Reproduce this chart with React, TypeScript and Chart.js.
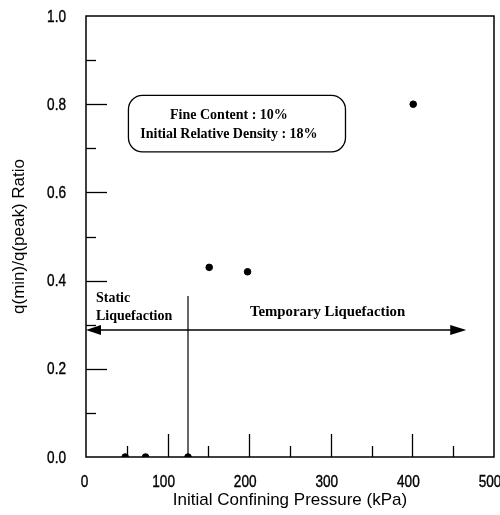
import React, { useEffect, useRef } from "react";
import { Chart, registerables } from "chart.js";

Chart.register(...registerables);

// Data
const pressureKPa = [48, 73, 125, 151, 198, 401];
const ratioValues = [0, 0, 0, 0.43, 0.42, 0.8];

// Axis tick labels
const xTickValues = [0, 100, 200, 300, 400, 500];
const yTickValues = [0, 0.2, 0.4, 0.6, 0.8, 1.0];
const xMajorInner = [100, 200, 300, 400];
const xMinorInner = [50, 150, 250, 350, 450];
const yMajorInner = [0.2, 0.4, 0.6, 0.8];
const yMinorInner = [0.1, 0.3, 0.5, 0.7, 0.9];

// Annotation values (in data units)
const arrowY = 0.288;
const arrowLeftX = 0;
const arrowRightX = 466;
const dividerX = 125;
const dividerTop = 0.365;
const boxX = [52, 318];
const boxY = [0.692, 0.82];
const boxLines = ["Fine Content : 10%", "Initial Relative Density : 18%"];

const TICK_FONT = "17px 'Liberation Sans', Arial, sans-serif";
const NARROW = 0.8;

const drawNarrow = (ctx: CanvasRenderingContext2D, text: string, x: number, y: number, align: "left" | "right" | "center") => {
  ctx.save();
  ctx.translate(x, y);
  ctx.scale(NARROW, 1);
  ctx.textAlign = align;
  ctx.textBaseline = "middle";
  ctx.fillText(text, 0, 0);
  ctx.lineWidth = 0.4;
  ctx.strokeText(text, 0, 0);
  ctx.restore();
};

const annotationPlugin = {
  id: "annot",
  afterDatasetsDraw(chart: any) {
    const ctx = chart.ctx as CanvasRenderingContext2D;
    const xs = chart.scales.x;
    const ys = chart.scales.y;
    const { left, right, top, bottom } = chart.chartArea;
    ctx.save();
    ctx.strokeStyle = "#000";
    ctx.fillStyle = "#000";
    // frame
    ctx.lineWidth = 1.5;
    ctx.strokeRect(left, top, right - left, bottom - top);
    // inner ticks
    ctx.lineWidth = 1.3;
    const drawX = (vals: number[], len: number) => {
      vals.forEach((v) => {
        const px = Math.round(xs.getPixelForValue(v)) + 0.5;
        ctx.beginPath();
        ctx.moveTo(px, bottom);
        ctx.lineTo(px, bottom - len);
        ctx.stroke();
      });
    };
    const drawY = (vals: number[], len: number) => {
      vals.forEach((v) => {
        const py = Math.round(ys.getPixelForValue(v)) + 0.5;
        ctx.beginPath();
        ctx.moveTo(left, py);
        ctx.lineTo(left + len, py);
        ctx.stroke();
      });
    };
    drawX(xMajorInner, 23);
    drawX(xMinorInner, 11);
    drawY(yMajorInner, 21);
    drawY(yMinorInner, 10);

    // tick labels (condensed sans)
    ctx.font = TICK_FONT;
    xTickValues.forEach((v) => {
      drawNarrow(ctx, String(v), xs.getPixelForValue(v) - (v === 0 ? 1.5 : 4), bottom + 25, "center");
    });
    yTickValues.forEach((v) => {
      drawNarrow(ctx, v.toFixed(1), left - 20, ys.getPixelForValue(v) + 1, "right");
    });

    // horizontal arrow
    const ay = ys.getPixelForValue(arrowY);
    const ax1 = xs.getPixelForValue(arrowLeftX);
    const ax2 = xs.getPixelForValue(arrowRightX);
    ctx.lineWidth = 1.5;
    ctx.beginPath();
    ctx.moveTo(ax1 + 10, ay);
    ctx.lineTo(ax2 - 10, ay);
    ctx.stroke();
    ctx.beginPath();
    ctx.moveTo(ax1, ay);
    ctx.lineTo(ax1 + 15, ay - 5);
    ctx.lineTo(ax1 + 15, ay + 5);
    ctx.closePath();
    ctx.fill();
    ctx.beginPath();
    ctx.moveTo(ax2, ay);
    ctx.lineTo(ax2 - 16, ay - 5);
    ctx.lineTo(ax2 - 16, ay + 5);
    ctx.closePath();
    ctx.fill();

    // vertical divider
    const dx = xs.getPixelForValue(dividerX);
    ctx.lineWidth = 1.2;
    ctx.beginPath();
    ctx.moveTo(dx, ys.getPixelForValue(0));
    ctx.lineTo(dx, ys.getPixelForValue(dividerTop));
    ctx.stroke();

    // rounded info box
    const bx1 = xs.getPixelForValue(boxX[0]);
    const bx2 = xs.getPixelForValue(boxX[1]);
    const by1 = ys.getPixelForValue(boxY[1]);
    const by2 = ys.getPixelForValue(boxY[0]);
    ctx.lineWidth = 1.3;
    ctx.beginPath();
    (ctx as any).roundRect(bx1, by1, bx2 - bx1, by2 - by1, 14);
    ctx.stroke();

    ctx.font = "bold 14px 'Liberation Serif', 'Times New Roman', serif";
    ctx.textBaseline = "middle";
    ctx.textAlign = "center";
    const bcx = (bx1 + bx2) / 2 - 8;
    ctx.fillText(boxLines[0], bcx, by1 + 20);
    ctx.fillText(boxLines[1], bcx, by1 + 39);

    // region labels
    ctx.textAlign = "left";
    ctx.font = "bold 14px 'Liberation Serif', 'Times New Roman', serif";
    ctx.fillText("Static", left + 10, ay - 32);
    ctx.fillText("Liquefaction", left + 10, ay - 14);
    ctx.textAlign = "center";
    ctx.font = "bold 14.8px 'Liberation Serif', 'Times New Roman', serif";
    ctx.fillText("Temporary Liquefaction", xs.getPixelForValue(296), ay - 18);
    ctx.restore();
  },
};

export default function App() {
  const ref = useRef<HTMLCanvasElement>(null);
  useEffect(() => {
    if (!ref.current) return;
    const titleFont = { family: "'Liberation Sans', Arial, sans-serif", size: 17 };
    const chart = new Chart(ref.current, {
      type: "scatter",
      data: {
        datasets: [
          {
            data: pressureKPa.map((x, i) => ({ x, y: ratioValues[i] })),
            backgroundColor: "#000",
            borderColor: "#000",
            pointRadius: 3.3,
            pointHoverRadius: 3.3,
          },
        ],
      },
      options: {
        animation: false,
        responsive: false,
        events: [],
        layout: { padding: { top: 16, right: 6, left: 0, bottom: 0 } },
        plugins: { legend: { display: false }, tooltip: { enabled: false } },
        scales: {
          x: {
            type: "linear",
            min: 0,
            max: 500,
            grid: { display: false, drawTicks: false },
            border: { display: false },
            afterBuildTicks: (s: any) => {
              s.ticks = xTickValues.map((v) => ({ value: v }));
            },
            afterFit: (s: any) => {
              s.height = 58;
              s.paddingLeft = 0;
              s.paddingRight = 0;
            },
            ticks: { display: false },
            title: {
              display: true,
              text: "Initial Confining Pressure (kPa)",
              color: "#000",
              font: titleFont,
              padding: { top: 0, bottom: 4 },
            },
          },
          y: {
            type: "linear",
            min: 0,
            max: 1,
            grid: { display: false, drawTicks: false },
            border: { display: false },
            afterBuildTicks: (s: any) => {
              s.ticks = yTickValues.map((v) => ({ value: v }));
            },
            afterFit: (s: any) => {
              s.width = 86;
              s.paddingTop = 0;
              s.paddingBottom = 0;
            },
            ticks: { display: false },
            title: {
              display: true,
              text: "q(min)/q(peak) Ratio",
              color: "#000",
              font: titleFont,
              padding: { top: 9, bottom: 0 },
            },
          },
        },
      },
      plugins: [annotationPlugin],
    });
    return () => chart.destroy();
  }, []);
  return (
    <div style={{ position: "absolute", left: 0, top: 0, width: 500, height: 515, background: "#fff" }}>
      <canvas ref={ref} width={500} height={515} />
    </div>
  );
}
